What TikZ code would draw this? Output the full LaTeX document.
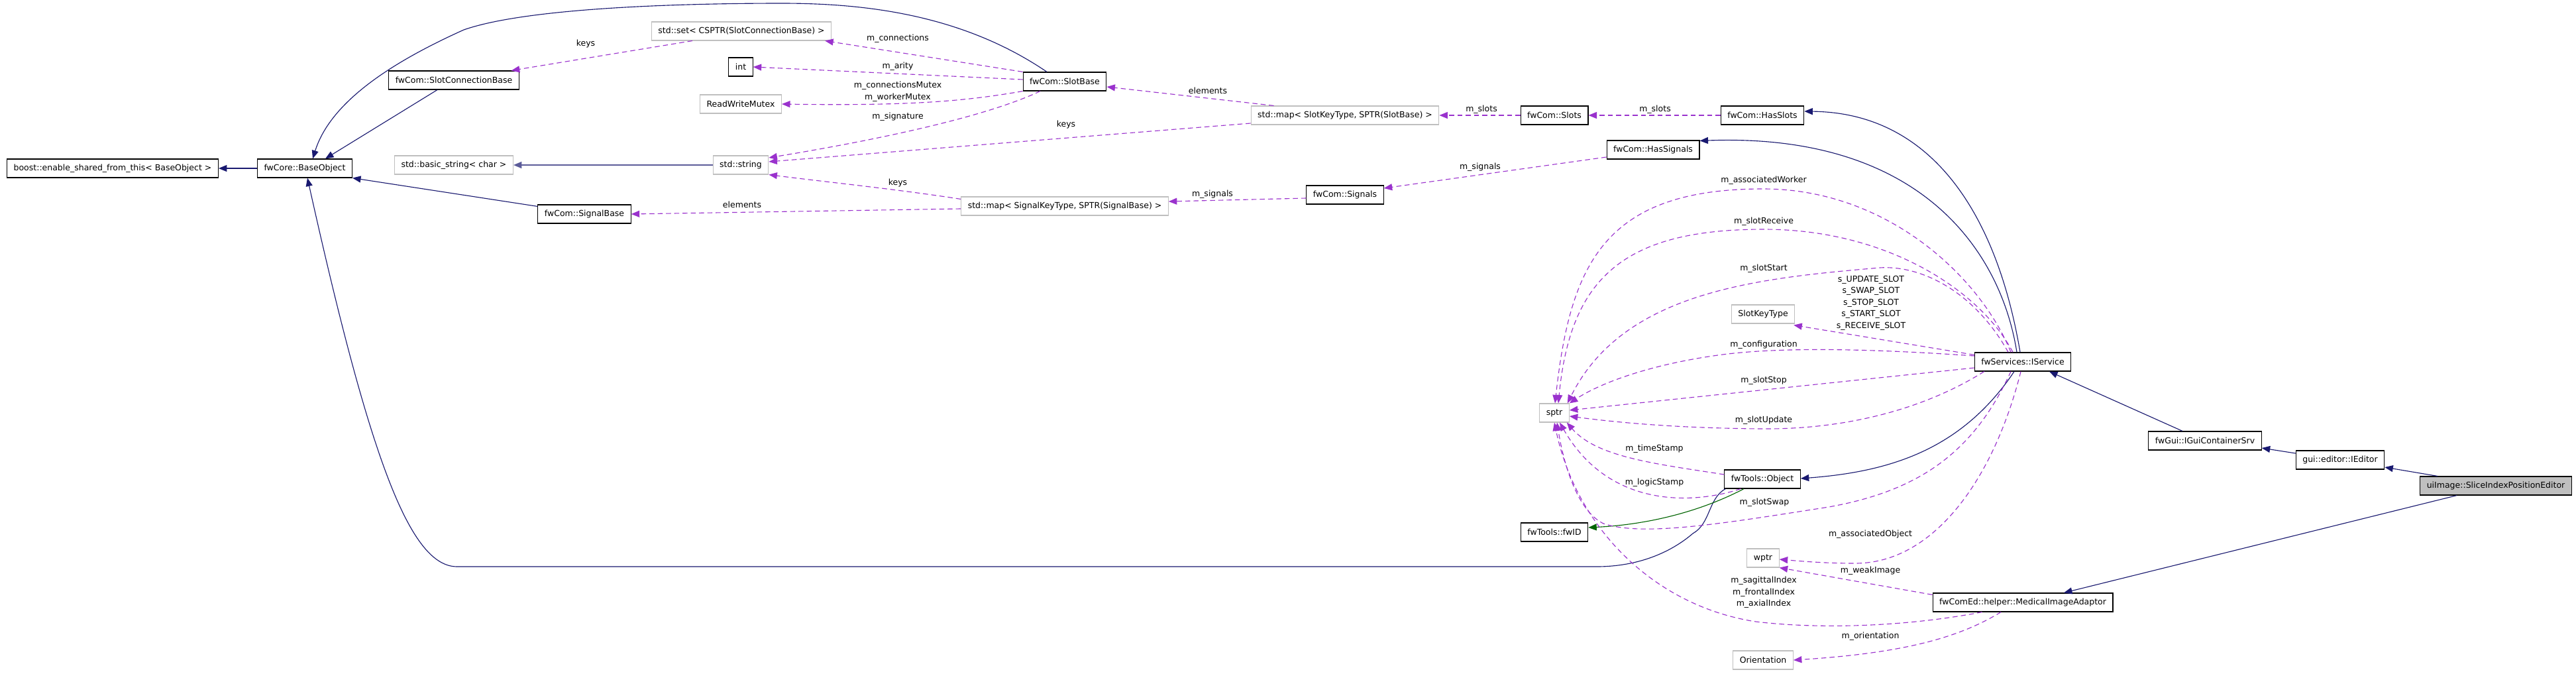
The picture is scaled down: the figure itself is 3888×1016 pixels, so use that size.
\documentclass[tikz,border=0pt]{standalone}
\usepackage{fontspec}
\setmainfont{DejaVu Sans}
\usepackage{tikz}
\usetikzlibrary{shapes,arrows,arrows.meta,positioning,calc}
\usepackage{xcolor}
\definecolor{inhblue}{rgb}{0.098,0.098,0.439}
\definecolor{tmplblue}{rgb}{0.36,0.36,0.6}
\definecolor{usegreen}{rgb}{0,0.392,0}
\definecolor{memberpurple}{rgb}{0.604,0.196,0.804}
\definecolor{undocgray}{rgb}{0.75,0.75,0.75}

\begin{document}
\begin{tikzpicture}[x=0.8pt,y=-0.8pt,
    font=\fontsize{10pt}{14pt}\selectfont,
    cls/.style={draw=black,line width=0.9pt,fill=white,inner xsep=8pt,inner ysep=0pt,minimum height=22.4pt},
    ext/.style={cls,draw=undocgray},
    lbl/.style={inner sep=1pt,align=center},
    inh/.style={inhblue,line width=0.9pt,-{Triangle[length=10pt,width=8pt]}},
    tmpl/.style={tmplblue,line width=1.3pt,-{Triangle[length=10pt,width=8pt]}},
    usage/.style={usegreen,line width=0.9pt,-{Triangle[length=10pt,width=8pt]}},
    dep/.style={memberpurple,line width=0.9pt,dash pattern=on 6pt off 4pt,-{Triangle[length=10pt,width=8pt]}}]
    \fill[white] (0,0) rectangle (3888,1016);
    \useasboundingbox (0,0) rectangle (3888,1016);

    % classes
    \node[cls] (boost) at (170,254) {boost::enable\_shared\_from\_this< BaseObject >};
    \node[cls] (BaseObject) at (460,254) {fwCore::BaseObject};
    \node[cls] (SlotConnBase) at (685,121) {fwCom::SlotConnectionBase};
    \node[ext] (basicString) at (685,249) {std::basic\_string< char >};
    \node[cls] (SignalBase) at (882,323) {fwCom::SignalBase};
    \node[ext] (setConn) at (1119,47) {std::set< CSPTR(SlotConnectionBase) >};
    \node[cls] (intType) at (1118,101) {int};
    \node[ext] (rwMutex) at (1118,157) {ReadWriteMutex};
    \node[ext] (stdString) at (1118,249) {std::string};
    \node[cls] (SlotBase) at (1607,123) {fwCom::SlotBase};
    \node[ext] (mapSignal) at (1607,311) {std::map< SignalKeyType, SPTR(SignalBase) >};
    \node[ext] (mapSlot) at (2030,174) {std::map< SlotKeyType, SPTR(SlotBase) >};
    \node[cls] (Signals) at (2030,294) {fwCom::Signals};
    \node[cls] (Slots) at (2346,174) {fwCom::Slots};
    \node[cls] (HasSignals) at (2495,226) {fwCom::HasSignals};
    \node[cls] (HasSlots) at (2660,174) {fwCom::HasSlots};
    \node[ext] (sptr) at (2346,623) {sptr};
    \node[ext] (SlotKeyType) at (2661,474) {SlotKeyType};
    \node[cls] (Object) at (2660,723) {fwTools::Object};
    \node[cls] (fwID) at (2346,803) {fwTools::fwID};
    \node[ext] (wptr) at (2661,842) {wptr};
    \node[ext] (Orientation) at (2661,996) {Orientation};
    \node[cls] (IService) at (3053,546) {fwServices::IService};
    \node[cls] (MedImgAdaptor) at (3053,909) {fwComEd::helper::MedicalImageAdaptor};
    \node[cls] (GuiContainer) at (3328,665) {fwGui::IGuiContainerSrv};
    \node[cls] (IEditor) at (3532,694) {gui::editor::IEditor};
    \node[cls,fill=undocgray] (SliceEditor) at (3767,733) {uiImage::SliceIndexPositionEditor};

    % inheritance
    \draw[inh] (BaseObject.west) -- (boost.east);
    \draw[inh] ($(SlotConnBase.south)+(-25,0)$) -- ($(BaseObject.north)+(31,0)$);
    \draw[inh] ($(SlotBase.north)+(-27,0)$) .. controls (1450,20) and (1300,5) .. (1180,5)
        .. controls (1050,5) and (800,10) .. (700,45) .. controls (600,90) and (500,150) .. ($(BaseObject.north)+(12,0)$);
    \draw[tmpl] (stdString.west) -- (basicString.east);
    \draw[inh] ($(SignalBase.north west)+(0,3)$) -- (BaseObject.south east);
    \draw[inh] ($(Object.south west)+(2,0)$) .. controls (2578,752) and (2582,790) .. (2555,805)
        .. controls (2520,835) and (2470,855) .. (2410,855) -- (690,855)
        .. controls (620,855) and (560,700) .. ($(BaseObject.south)+(4,0)$);
    \draw[inh] ($(IService.north)+(-4,0)$) .. controls (3015,330) and (2920,170) .. ($(HasSlots.east)+(0,-6)$);
    \draw[inh] ($(IService.north)+(-9,0)$) .. controls (3020,380) and (2900,200) .. ($(HasSignals.north east)+(0,1)$);
    \draw[inh] ($(IService.south)+(-13,0)$) .. controls (2960,680) and (2850,712) .. ($(Object.east)+(0,-1)$);
    \draw[inh] ($(GuiContainer.north)+(-34,0)$) -- ($(IService.south)+(40,0)$);
    \draw[inh] ($(IEditor.west)+(0,-10)$) -- ($(GuiContainer.east)+(0,11)$);
    \draw[inh] ($(SliceEditor.north)+(-88,0)$) -- ($(IEditor.east)+(0,11)$);
    \draw[inh] ($(SliceEditor.south)+(-59,0)$) -- ($(MedImgAdaptor.north)+(62,0)$);
    \draw[usage] ($(Object.south)+(-28,0)$) .. controls (2560,775) and (2480,792) .. ($(fwID.east)+(0,-7)$);

    % members
    \draw[dep] ($(setConn.south)+(-74,0)$) -- ($(SlotConnBase.north east)+(-12,0)$);
    \draw[dep] (SlotBase.north west) -- ($(setConn.south east)+(-10,0)$);
    \draw[dep] ($(SlotBase.west)+(0,-3)$) -- (intType.east);
    \draw[dep] (SlotBase.south west) .. controls (1460,152) and (1380,160) .. (rwMutex.east);
    \draw[dep] ($(SlotBase.south)+(-37,0)$) .. controls (1480,180) and (1300,215) .. ($(stdString.east)+(0,-11)$);
    \draw[dep] ($(mapSlot.north west)+(35,0)$) -- ($(SlotBase.east)+(0,8)$);
    \draw[dep] ($(mapSlot.west)+(0,12)$) -- ($(stdString.east)+(0,-5)$);
    \draw[dep] ($(mapSignal.north west)+(0,4)$) .. controls (1350,285) and (1250,275) .. (stdString.south east);
    \draw[dep] ($(mapSignal.west)+(0,4)$) -- (SignalBase.east);
    \draw[dep] (Slots.west) -- (mapSlot.east);
    \draw[dep] (HasSlots.west) -- (Slots.east);
    \draw[dep] ($(Signals.west)+(0,5)$) -- ($(mapSignal.east)+(0,-7)$);
    \draw[dep] ($(HasSignals.west)+(0,11)$) -- ($(Signals.east)+(0,-10)$);
    \draw[dep] ($(IService.north)+(-18,0)$) .. controls (2990,420) and (2850,285) .. (2661,285)
        .. controls (2420,285) and (2370,400) .. ($(sptr.north)+(1,0)$);
    \draw[dep] ($(IService.north)+(-15,0)$) .. controls (2990,440) and (2850,346) .. (2662,346)
        .. controls (2450,346) and (2370,420) .. ($(sptr.north)+(6,0)$);
    \draw[dep] ($(IService.north)+(-22,0)$) .. controls (2980,440) and (2900,400) .. (2837,404)
        .. controls (2650,420) and (2450,440) .. ($(sptr.north east)+(-3,0)$);
    \draw[dep] ($(IService.north west)+(0,4)$) -- ($(SlotKeyType.south east)+(-2,2)$);
    \draw[dep] ($(IService.west)+(0,-9)$) .. controls (2850,528) and (2700,522) .. (2600,535)
        .. controls (2500,548) and (2420,575) .. (sptr.north east);
    \draw[dep] ($(IService.west)+(0,9)$) -- ($(sptr.east)+(0,-4)$);
    \draw[dep] ($(IService.south west)+(15,0)$) .. controls (2900,620) and (2780,648) .. (2660,647)
        .. controls (2520,646) and (2430,636) .. ($(sptr.east)+(0,5)$);
    \draw[dep] ($(Object.west)+(0,-7)$) .. controls (2500,700) and (2410,690) .. ($(sptr.south east)+(-4,0)$);
    \draw[dep] ($(Object.south west)+(25,0)$) .. controls (2560,760) and (2430,770) .. ($(sptr.south)+(8,0)$);
    \draw[dep] ($(IService.south)+(-18,0)$) .. controls (2980,680) and (2900,740) .. (2760,765)
        .. controls (2600,790) and (2480,810) .. (2420,790) .. controls (2380,770) and (2360,700) .. ($(sptr.south)+(4,0)$);
    \draw[dep] ($(IService.south)+(-3,0)$) .. controls (3010,720) and (2920,850) .. (2800,850)
        .. controls (2750,850) and (2710,846) .. ($(wptr.east)+(0,2)$);
    \draw[dep] ($(MedImgAdaptor.north west)+(0,3)$) -- (wptr.south east);
    \draw[dep] ($(MedImgAdaptor.south west)+(75,0)$) .. controls (2880,945) and (2750,950) .. (2650,938)
        .. controls (2500,915) and (2380,800) .. (sptr.south);
    \draw[dep] ($(MedImgAdaptor.south)+(-33,0)$) .. controls (2960,960) and (2880,985) .. (Orientation.east);

    % labels
    \node[lbl] (lKeysSet) at (884,66) {keys};
    \node[lbl] (lConnections) at (1355,58) {m\_connections};
    \node[lbl] (lArity) at (1355,100) {m\_arity};
    \node[lbl] (lMutex) at (1355,138) {m\_connectionsMutex\\m\_workerMutex};
    \node[lbl] (lSignature) at (1355,176) {m\_signature};
    \node[lbl] (lElemSlot) at (1823,137) {elements};
    \node[lbl] (lKeysSlot) at (1609,188) {keys};
    \node[lbl] (lKeysSignal) at (1355,276) {keys};
    \node[lbl] (lElemSignal) at (1120,309) {elements};
    \node[lbl] (lSlotsMap) at (2236,165) {m\_slots};
    \node[lbl] (lSlots) at (2498,165) {m\_slots};
    \node[lbl] (lSignalsMap) at (1830,293) {m\_signals};
    \node[lbl] (lSignals) at (2234,252) {m\_signals};
    \node[lbl] (lAssocWorker) at (2662,272) {m\_associatedWorker};
    \node[lbl] (lSlotReceive) at (2662,334) {m\_slotReceive};
    \node[lbl] (lSlotStart) at (2662,405) {m\_slotStart};
    \node[lbl] (lSlotKeys) at (2824,457) {s\_UPDATE\_SLOT\\s\_SWAP\_SLOT\\s\_STOP\_SLOT\\s\_START\_SLOT\\s\_RECEIVE\_SLOT};
    \node[lbl] (lConfiguration) at (2662,520) {m\_configuration};
    \node[lbl] (lSlotStop) at (2662,574) {m\_slotStop};
    \node[lbl] (lSlotUpdate) at (2662,634) {m\_slotUpdate};
    \node[lbl] (lTimeStamp) at (2497,677) {m\_timeStamp};
    \node[lbl] (lLogicStamp) at (2497,728) {m\_logicStamp};
    \node[lbl] (lSlotSwap) at (2663,758) {m\_slotSwap};
    \node[lbl] (lAssocObject) at (2823,806) {m\_associatedObject};
    \node[lbl] (lWeakImage) at (2823,861) {m\_weakImage};
    \node[lbl] (lIndexes) at (2662,894) {m\_sagittalIndex\\m\_frontalIndex\\m\_axialIndex};
    \node[lbl] (lOrientation) at (2823,960) {m\_orientation};
\end{tikzpicture}
\end{document}
